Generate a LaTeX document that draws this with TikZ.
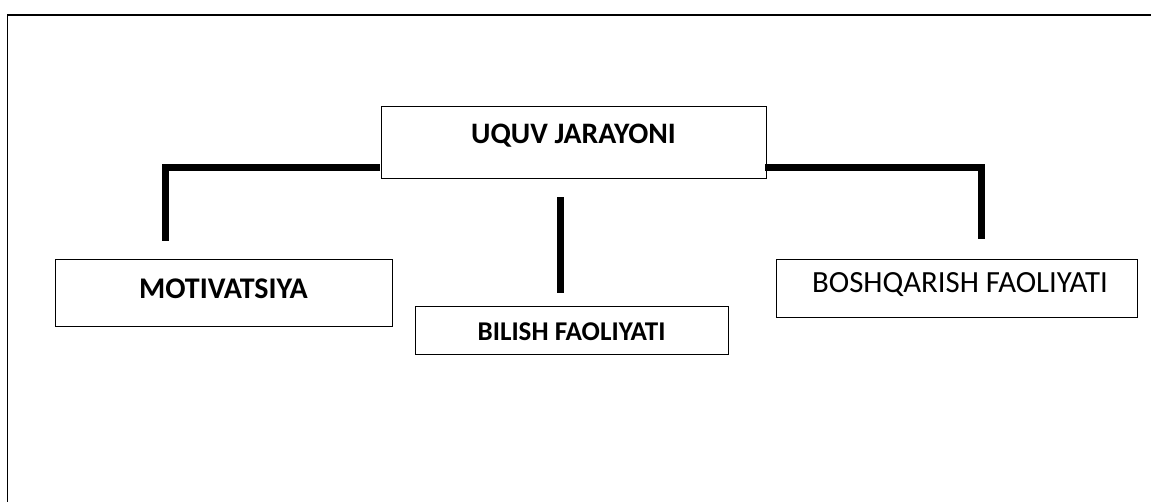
\documentclass[tikz,border=0pt]{standalone}
\usepackage{fontspec}
\setmainfont{Carlito}
\begin{document}
\begin{tikzpicture}[x=1pt,y=-1pt,
  box/.style={draw=black,line width=1.3pt,inner sep=0pt,anchor=north west},
  conn/.style={line width=7pt,black}]
\useasboundingbox (0,0) rectangle (1151,501);
\clip (0,0) rectangle (1151,501);
\draw[line width=1.4pt] (7.5,520) -- (7.5,15) -- (1170,15);
% boxes
\node[box,minimum width=385pt,minimum height=72pt] (uq) at (381,105.7) {};
\node[font=\bfseries\fontsize{29.7}{31}\selectfont] (uqt) at (573.5,136) {UQUV JARAYONI};
\node[box,minimum width=337pt,minimum height=67pt] (mot) at (55,259) {};
\node[font=\bfseries\fontsize{30}{31}\selectfont] (mott) at (223.5,289) {MOTIVATSIYA};
\node[box,minimum width=313pt,minimum height=48pt] (bil) at (415,306) {};
\node[font=\bfseries\fontsize{27.1}{28}\selectfont] (bilt) at (571.5,332) {BILISH FAOLIYATI};
\node[box,minimum width=361pt,minimum height=57.5pt] (bos) at (775.5,259) {};
\node[font=\fontsize{30.8}{32}\selectfont] (bost) at (960,285) {BOSHQARISH FAOLIYATI};
% connectors
\coordinate (lA) at (380,167);
\coordinate (lB) at (165.7,241);
\coordinate (rA) at (765,167);
\coordinate (rB) at (981.7,239);
\coordinate (mA) at (560,197);
\coordinate (mB) at (560,293);
\draw[conn] (lA) -| (lB);
\draw[conn] (rA) -| (rB);
\draw[conn] (mA) -- (mB);
\end{tikzpicture}
\end{document}
